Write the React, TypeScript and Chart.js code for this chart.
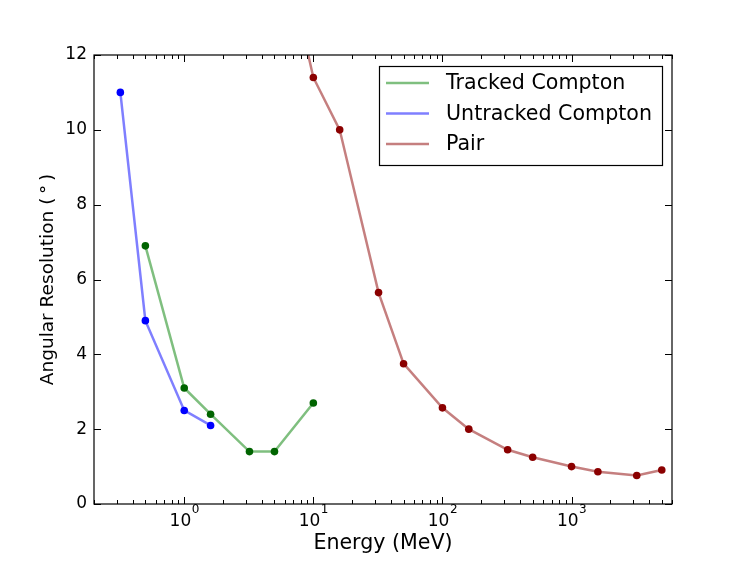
import { Chart, registerables } from "chart.js";
import { useEffect, useRef } from "react";

Chart.register(...registerables);

// energies in MeV, resolution in degrees
const trackedEnergy = [0.5, 1, 1.6, 3.2, 5, 10];
const trackedRes = [6.9, 3.1, 2.4, 1.4, 1.4, 2.7];

const untrackedEnergy = [0.32, 0.5, 1, 1.6];
const untrackedRes = [11.0, 4.9, 2.5, 2.1];

const pairEnergy = [5, 10, 16, 32, 50, 100, 160, 320, 500, 1000, 1600, 3200, 5000];
const pairRes = [16, 11.4, 10.0, 5.65, 3.75, 2.57, 2.0, 1.45, 1.25, 1.0, 0.86, 0.76, 0.91];

const xTickValues = [1, 10, 100, 1000];
const xTickExponents = ["0", "1", "2", "3"];
const yTickValues = [0, 2, 4, 6, 8, 10, 12];

const FONT = "'DejaVu Sans', sans-serif";

const toPoints = (xs: number[], ys: number[]) => xs.map((x, i) => ({ x, y: ys[i] }));

// frame, inward ticks on all four sides, 10^n labels and the legend box
const framePlugin = {
    id: "framePlugin",
    afterDraw(chart: any) {
        const { ctx, chartArea: a, scales } = chart;
        const xs = scales.x;
        const ys = scales.y;
        ctx.save();
        ctx.strokeStyle = "#000";
        ctx.lineWidth = 1;
        ctx.beginPath();
        for (let e = -1; e <= 4; e++) {
            for (let m = 1; m <= 9; m++) {
                const v = m * Math.pow(10, e);
                if (v < xs.min || v > xs.max) continue;
                const px = Math.round(xs.getPixelForValue(v)) + 0.5;
                const len = m === 1 ? 7 : 4;
                ctx.moveTo(px, a.bottom);
                ctx.lineTo(px, a.bottom - len);
                ctx.moveTo(px, a.top);
                ctx.lineTo(px, a.top + len);
            }
        }
        for (const v of yTickValues) {
            const py = Math.round(ys.getPixelForValue(v)) + 0.5;
            ctx.moveTo(a.left, py);
            ctx.lineTo(a.left + 7, py);
            ctx.moveTo(a.right, py);
            ctx.lineTo(a.right - 7, py);
        }
        ctx.stroke();
        ctx.lineWidth = 1.2;
        ctx.strokeRect(a.left, a.top, a.right - a.left, a.bottom - a.top);

        // x tick labels as 10 with a raised exponent
        ctx.fillStyle = "#000";
        ctx.textBaseline = "alphabetic";
        ctx.textAlign = "left";
        xTickValues.forEach((v, i) => {
            const px = xs.getPixelForValue(v);
            ctx.font = `17px ${FONT}`;
            const w1 = ctx.measureText("10").width;
            ctx.font = `12px ${FONT}`;
            const w2 = ctx.measureText(xTickExponents[i]).width;
            const x0 = px - (w1 + w2) / 2;
            ctx.font = `17px ${FONT}`;
            ctx.fillText("10", x0, a.bottom + 22);
            ctx.font = `12px ${FONT}`;
            ctx.fillText(xTickExponents[i], x0 + w1 + 0.5, a.bottom + 9);
        });

        // legend
        const bx = a.right - 293;
        const by = a.top + 11;
        const bw = 283;
        const bh = 99;
        ctx.fillStyle = "#fff";
        ctx.fillRect(bx, by, bw, bh);
        ctx.strokeStyle = "#000";
        ctx.lineWidth = 1.2;
        ctx.strokeRect(bx + 0.5, by + 0.5, bw, bh);
        ctx.font = `20.6px ${FONT}`;
        ctx.textBaseline = "middle";
        chart.data.datasets.forEach((ds: any, i: number) => {
            const ly = by + 17 + i * 30.5;
            ctx.strokeStyle = ds.borderColor;
            ctx.lineWidth = 2.5;
            ctx.beginPath();
            ctx.moveTo(bx + 7, ly);
            ctx.lineTo(bx + 50, ly);
            ctx.stroke();
            ctx.fillStyle = "#000";
            ctx.fillText(ds.label, bx + 67, ly + 1);
        });
        ctx.restore();
    },
};

export default function App() {
    const canvasRef = useRef<HTMLCanvasElement | null>(null);
    const chartRef = useRef<Chart | null>(null);

    useEffect(() => {
        document.body.style.margin = "0";
        const ctx = canvasRef.current?.getContext("2d");
        if (chartRef.current) {
            chartRef.current.destroy();
        }
        Chart.defaults.color = "#000";
        Chart.defaults.font.family = FONT;

        const common = {
            showLine: true,
            borderWidth: 2.5,
            pointRadius: 3.8,
            pointBorderWidth: 0,
            pointHoverRadius: 3.8,
            clip: 0,
        };

        chartRef.current = new Chart(ctx!, {
            type: "scatter",
            data: {
                datasets: [
                    {
                        ...common,
                        label: "Tracked Compton",
                        data: toPoints(trackedEnergy, trackedRes),
                        borderColor: "rgba(0, 128, 0, 0.5)",
                        pointBackgroundColor: "#006400",
                        backgroundColor: "#006400",
                    },
                    {
                        ...common,
                        label: "Untracked Compton",
                        data: toPoints(untrackedEnergy, untrackedRes),
                        borderColor: "rgba(0, 0, 255, 0.5)",
                        pointBackgroundColor: "#0000ff",
                        backgroundColor: "#0000ff",
                    },
                    {
                        ...common,
                        label: "Pair",
                        data: toPoints(pairEnergy, pairRes),
                        borderColor: "rgba(139, 0, 0, 0.5)",
                        pointBackgroundColor: "#8b0000",
                        backgroundColor: "#8b0000",
                    },
                ],
            },
            options: {
                animation: false,
                responsive: false,
                layout: { padding: { left: 0, top: 55, right: 75, bottom: 0 } },
                plugins: {
                    legend: { display: false },
                    tooltip: { enabled: false },
                },
                scales: {
                    x: {
                        type: "logarithmic",
                        min: 0.2,
                        max: 6000,
                        bounds: "data",
                        grid: { display: false, drawTicks: false },
                        border: { display: false },
                        afterBuildTicks: (scale: any) => {
                            scale.ticks = xTickValues.map((value) => ({ value }));
                        },
                        afterFit: (scale: any) => {
                            scale.height = 57;
                        },
                        ticks: { display: false },
                        title: {
                            display: true,
                            text: "Energy (MeV)",
                            font: { size: 20.6 },
                            padding: { top: 0, bottom: 5 },
                        },
                    },
                    y: {
                        type: "linear",
                        min: 0,
                        max: 12,
                        grid: { display: false, drawTicks: false },
                        border: { display: false },
                        afterBuildTicks: (scale: any) => {
                            scale.ticks = yTickValues.map((value) => ({ value }));
                        },
                        afterFit: (scale: any) => {
                            scale.width = 94;
                        },
                        ticks: {
                            padding: 7,
                            font: { size: 17 },
                        },
                        title: {
                            display: true,
                            text: "Angular Resolution (\u2009°\u2009)",
                            font: { size: 18.5 },
                            padding: { top: 37.5, bottom: 0 },
                        },
                    },
                },
            },
            plugins: [framePlugin],
        } as any);

        return () => {
            if (chartRef.current) {
                chartRef.current.destroy();
                chartRef.current = null;
            }
        };
    }, []);

    return (
        <div style={{ width: 747, height: 561 }}>
            <canvas ref={canvasRef} width="747" height="561" />
        </div>
    );
}
